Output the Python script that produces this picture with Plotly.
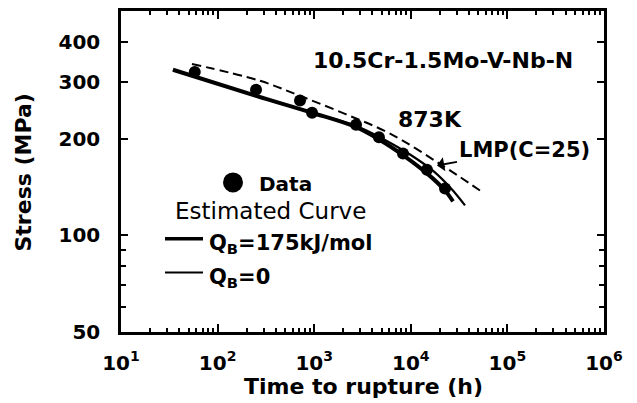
import plotly.graph_objects as go

# ---- data ----
t_data = [58, 250, 713, 950, 2710, 4680, 8300, 14700, 22600]
s_data = [323, 284, 263, 241, 221, 202, 180, 160, 140]

t_qb175 = [34.5, 250, 948, 2645, 4690, 8500, 14700, 22600, 27350]
s_qb175 = [328, 272, 241, 218, 199, 177, 156, 138, 127.6]

t_qb0 = [34.5, 250, 948, 2840, 5280, 9810, 17400, 26700, 36400]
s_qb0 = [328, 272, 241, 218, 199, 178.6, 158, 139, 124]

t_lmp = [54.3, 275, 713, 2085, 6100, 20000, 52000]
s_lmp = [342, 303, 272, 239, 207.5, 167, 138]

x_tickvals = [1e1, 1e2, 1e3, 1e4, 1e5, 1e6]
x_ticktext = ["10<sup>1</sup>", "10<sup>2</sup>", "10<sup>3</sup>",
              "10<sup>4</sup>", "10<sup>5</sup>", "10<sup>6</sup>"]
y_tickvals = [50, 100, 200, 300, 400]
y_ticktext = ["50", "100", "200", "300", "400"]
y_minor = [60, 70, 80, 90]
x_minor = [k * 10 ** n for n in range(1, 6) for k in range(2, 10)]

FONT = "DejaVu Sans"
W, H = 637, 403
L, R, T, B = 121, 33, 8, 71
PW, PH = W - L - R, H - T - B


def px(x):
    return (x - L) / PW


def py(y):
    return (H - B - y) / PH


fig = go.Figure()
fig.add_trace(go.Scatter(x=t_lmp, y=s_lmp, mode="lines", line_shape="spline",
                         line=dict(color="black", width=2, dash="9px,5px"),
                         showlegend=False))
fig.add_trace(go.Scatter(x=t_qb0, y=s_qb0, mode="lines", line_shape="spline",
                         line=dict(color="black", width=2.2), showlegend=False))
fig.add_trace(go.Scatter(x=t_qb175, y=s_qb175, mode="lines", line_shape="spline",
                         line=dict(color="black", width=4), showlegend=False))
fig.add_trace(go.Scatter(x=t_data, y=s_data, mode="markers",
                         marker=dict(color="black", size=12), showlegend=False))

bold = dict(family=FONT, size=22, color="black", weight="bold")
ann = []
ann.append(dict(text="10.5Cr-1.5Mo-V-Nb-N", x=px(443), y=py(58), xref="paper", yref="paper",
                showarrow=False, font=bold, xanchor="center", yanchor="middle"))
ann.append(dict(text="873K", x=px(430), y=py(118), xref="paper", yref="paper",
                showarrow=False, font=bold, xanchor="center", yanchor="middle"))
ann.append(dict(text="LMP(C=25)", x=px(437), y=py(164), xref="paper", yref="paper",
                ax=87, ay=-16, showarrow=True, arrowhead=1, arrowsize=1.2, arrowwidth=2,
                arrowcolor="black", standoff=0,
                font=dict(family=FONT, size=21, color="black", weight="bold")))
# legend texts
ann.append(dict(text="Data", x=px(257), y=py(183), xref="paper", yref="paper",
                showarrow=False, font=dict(family=FONT, size=20, color="black", weight="bold"),
                xanchor="left", yanchor="middle"))
ann.append(dict(text="Estimated Curve", x=px(173), y=py(210), xref="paper", yref="paper",
                showarrow=False, font=dict(family=FONT, size=23, color="black"),
                xanchor="left", yanchor="middle"))
ann.append(dict(text="Q<sub>B</sub>=175kJ/mol", x=px(207), y=py(243), xref="paper", yref="paper",
                showarrow=False, font=dict(family=FONT, size=21, color="black", weight="bold"),
                xanchor="left", yanchor="middle"))
ann.append(dict(text="Q<sub>B</sub>=0", x=px(207), y=py(277), xref="paper", yref="paper",
                showarrow=False, font=dict(family=FONT, size=21, color="black", weight="bold"),
                xanchor="left", yanchor="middle"))
# axis titles
ann.append(dict(text="Time to rupture (h)", x=px(363), y=py(387), xref="paper", yref="paper",
                showarrow=False, font=bold, xanchor="center", yanchor="middle"))
ann.append(dict(text="Stress (MPa)", x=px(23), y=py(171), xref="paper", yref="paper",
                showarrow=False, font=bold, textangle=-90, xanchor="center", yanchor="middle"))

shapes = [
    dict(type="circle", xref="paper", yref="paper", xsizemode="pixel", ysizemode="pixel",
         xanchor=px(233), yanchor=py(181), x0=-10, x1=10, y0=-10, y1=10,
         fillcolor="black", line=dict(color="black", width=0)),
    dict(type="line", xref="paper", yref="paper", x0=px(165), x1=px(203), y0=py(238), y1=py(238),
         line=dict(color="black", width=3.5)),
    dict(type="line", xref="paper", yref="paper", x0=px(165), x1=px(203), y0=py(272), y1=py(272),
         line=dict(color="black", width=2)),
]

tickfont = dict(family=FONT, size=20, color="black", weight="bold")
fig.update_layout(
    width=W, height=H, margin=dict(l=L, r=R, t=T, b=B),
    paper_bgcolor="white", plot_bgcolor="white",
    annotations=ann, shapes=shapes,
    xaxis=dict(type="log", range=[1, 6], tickvals=x_tickvals, ticktext=x_ticktext,
               ticks="inside", ticklen=8, tickwidth=2, tickcolor="black",
               showline=True, linewidth=2.5, linecolor="black", mirror="ticks",
               showgrid=False, zeroline=False, tickfont=tickfont, ticklabelstandoff=11,
               minor=dict(tickvals=x_minor, ticks="inside", ticklen=4, tickwidth=1.5,
                          tickcolor="black", showgrid=False)),
    yaxis=dict(type="log", range=[1.69897, 2.69897], tickvals=y_tickvals, ticktext=y_ticktext,
               ticks="inside", ticklen=7, tickwidth=2, tickcolor="black",
               showline=True, linewidth=2.5, linecolor="black", mirror="ticks",
               showgrid=False, zeroline=False, tickfont=tickfont, ticklabelstandoff=14,
               minor=dict(tickvals=y_minor, ticks="inside", ticklen=5, tickwidth=2,
                          tickcolor="black", showgrid=False)),
)
fig.write_html("out.html")
